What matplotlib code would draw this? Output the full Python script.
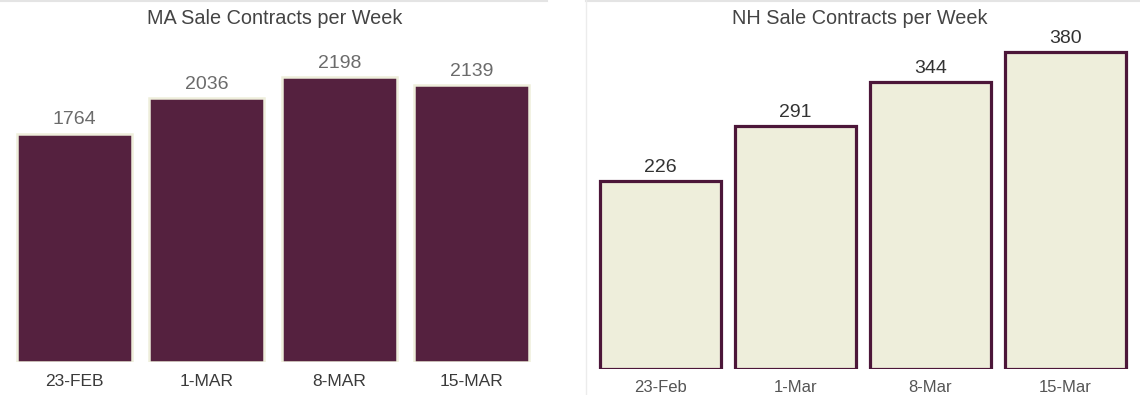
import matplotlib.pyplot as plt
from matplotlib.lines import Line2D

# data
weeks_ma = ['23-FEB', '1-MAR', '8-MAR', '15-MAR']
ma_contracts = [1764, 2036, 2198, 2139]
weeks_nh = ['23-Feb', '1-Mar', '8-Mar', '15-Mar']
nh_contracts = [226, 291, 344, 380]

plum = '#55213f'
cream = '#eeeedb'

plt.rcParams['font.family'] = ['Liberation Sans', 'DejaVu Sans']

W, H = 1140, 395
fig = plt.figure(figsize=(W / 100, H / 100), dpi=100)


def px_axes(x0, x1, y_base, y_top):
    # pixel box -> figure fraction (y measured from top)
    return fig.add_axes([x0 / W, (H - y_base) / H, (x1 - x0) / W, (y_base - y_top) / H])


# MA panel
ax1 = px_axes(8, 538, 362, 12)
bars1 = ax1.bar(range(4), ma_contracts, width=0.87, color=plum,
                edgecolor=cream, linewidth=1.8)
ax1.set_xlim(-0.5, 3.5)
ax1.set_ylim(0, 350 / 0.1295)
for b, v in zip(bars1, ma_contracts):
    ax1.text(b.get_x() + b.get_width() / 2, v + 40, str(v), ha='center',
             va='bottom', fontsize=14, color='#6b6b6b')
ax1.set_xticks(range(4))
ax1.set_xticklabels(weeks_ma, fontsize=12.5, color='#3a3a3a')
ax1.tick_params(axis='x', length=0, pad=9)
ax1.set_yticks([])
for s in ax1.spines.values():
    s.set_visible(False)
fig.text(275 / W, 1 - 18 / H, 'MA Sale Contracts per Week', ha='center',
         va='center', fontsize=14.3, color='#444444')

# NH panel
ax2 = px_axes(593, 1133, 369, 19)
bars2 = ax2.bar(range(4), nh_contracts, width=0.9, color=cream,
                edgecolor='#4c1639', linewidth=2.3)
ax2.set_xlim(-0.5, 3.5)
ax2.set_ylim(0, 350 / 0.834)
for b, v in zip(bars2, nh_contracts):
    ax2.text(b.get_x() + b.get_width() / 2, v + 6, str(v), ha='center',
             va='bottom', fontsize=14, color='#333333')
ax2.set_xticks(range(4))
ax2.set_xticklabels(weeks_nh, fontsize=12, color='#555555')
ax2.tick_params(axis='x', length=0, pad=8)
ax2.set_yticks([])
for s in ax2.spines.values():
    s.set_visible(False)
fig.text(860 / W, 1 - 18 / H, 'NH Sale Contracts per Week', ha='center',
         va='center', fontsize=14.3, color='#444444')

# faint panel borders
fig.add_artist(Line2D([0, 547 / W], [1 - 1 / H, 1 - 1 / H], color='#e4e4e4', lw=1.5))
fig.add_artist(Line2D([586 / W, 1], [1 - 1 / H, 1 - 1 / H], color='#e4e4e4', lw=1.5))
fig.add_artist(Line2D([586 / W, 586 / W], [0, 1], color='#ececec', lw=1))

fig.savefig('out.png', dpi=100)
